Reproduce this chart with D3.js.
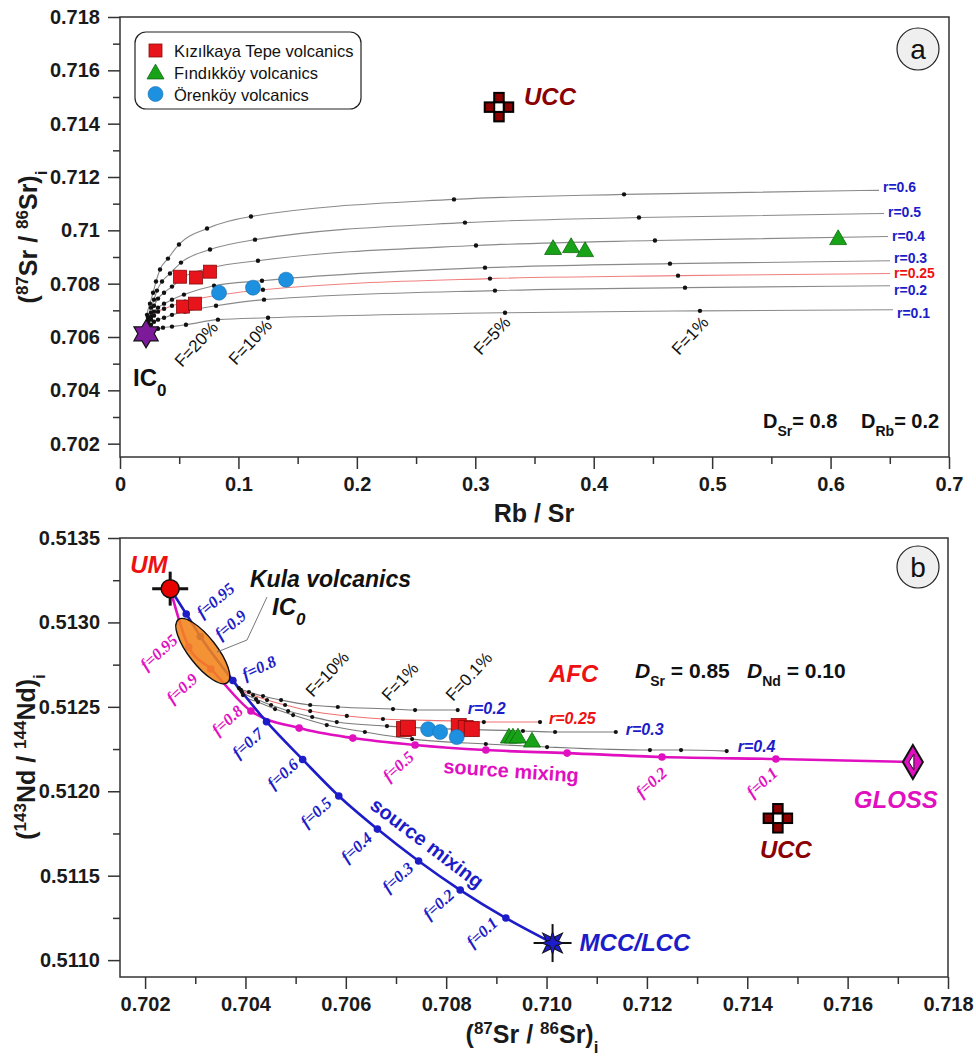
<!DOCTYPE html>
<html>
<head>
<meta charset="utf-8" />
<script src="https://d3js.org/d3.v7.min.js"></script>
<style>
  body { margin: 0; background: #fff; }
  svg { font-family: "Liberation Sans", Arial, sans-serif; }
  .frame { fill: none; stroke: #333; stroke-width: 1.5px; }
  .axis line { stroke: #333; stroke-width: 1.5px; }
  .axis text { font-family: "Liberation Sans", Arial, sans-serif; font-weight: bold; font-size: 20px; fill: #1a1a1a; }
  .title { font-weight: bold; font-size: 25px; fill: #1a1a1a; }
  .flab { font-family: "Liberation Serif", "Times New Roman", serif; font-style: italic; font-weight: bold; font-size: 16.5px; }
</style>
</head>
<body>
<svg id="chart" width="976" height="1058"></svg>
<script>

var svg = d3.select("#chart");

// ---------------- panel a : Rb/Sr vs (87Sr/86Sr)i ----------------
var kizilkayaA = [[0.0507, 0.70826], [0.0642, 0.70823], [0.0760, 0.70845], [0.0532, 0.70714], [0.0633, 0.70725]];
var orenkoyA = [[0.0836, 0.70766], [0.1123, 0.70785], [0.1402, 0.70815]];
var findikkoyA = [[0.3657, 0.70928], [0.3809, 0.70935], [0.3927, 0.70920], [0.6064, 0.70965]];
var ic0A = [0.022, 0.70612];
var uccA = [0.320, 0.71462];

// AFC curves: IC0, F = 90..20%, 10%, 5%, 1%, curve end
var afcRatiosA = ["0.6", "0.5", "0.4", "0.3", "0.25", "0.2", "0.1"];
var afcCurvesA = [
  [[0.0220,0.70612],[0.0228,0.70683],[0.0253,0.70725],[0.0279,0.70766],[0.0304,0.70808],[0.0338,0.70853],[0.0405,0.70894],[0.0498,0.70947],[0.0735,0.71007],[0.1106,0.71052],[0.2820,0.71116],[0.4256,0.71135],[0.6409,0.71150]],
  [[0.0220,0.70612],[0.0236,0.70672],[0.0262,0.70710],[0.0287,0.70740],[0.0312,0.70774],[0.0355,0.70808],[0.0422,0.70838],[0.0515,0.70879],[0.0760,0.70928],[0.1140,0.70965],[0.2913,0.71029],[0.4382,0.71048],[0.6451,0.71063]],
  [[0.0220,0.70612],[0.0236,0.70661],[0.0262,0.70691],[0.0287,0.70717],[0.0321,0.70744],[0.0372,0.70766],[0.0439,0.70789],[0.0532,0.70823],[0.0777,0.70860],[0.1165,0.70886],[0.3006,0.70943],[0.4517,0.70962],[0.6485,0.70977]],
  [[0.0220,0.70612],[0.0236,0.70654],[0.0262,0.70676],[0.0287,0.70695],[0.0321,0.70710],[0.0372,0.70725],[0.0439,0.70740],[0.0540,0.70759],[0.0794,0.70792],[0.1199,0.70811],[0.3082,0.70860],[0.4644,0.70875],[0.6502,0.70886]],
  [[0.0220,0.70612],[0.0236,0.70646],[0.0262,0.70665],[0.0287,0.70680],[0.0321,0.70695],[0.0372,0.70706],[0.0439,0.70717],[0.0549,0.70732],[0.0802,0.70755],[0.1207,0.70777],[0.3124,0.70819],[0.4712,0.70830],[0.6502,0.70838]],
  [[0.0220,0.70612],[0.0236,0.70635],[0.0262,0.70646],[0.0287,0.70657],[0.0321,0.70665],[0.0372,0.70672],[0.0439,0.70683],[0.0549,0.70695],[0.0811,0.70717],[0.1216,0.70740],[0.3166,0.70774],[0.4771,0.70785],[0.6502,0.70792]],
  [[0.0220,0.70612],[0.0236,0.70620],[0.0262,0.70623],[0.0287,0.70627],[0.0321,0.70631],[0.0363,0.70635],[0.0439,0.70639],[0.0557,0.70646],[0.0827,0.70665],[0.1250,0.70672],[0.3251,0.70691],[0.4897,0.70698],[0.6527,0.70702]]
];

var xTicksA = [0, 0.1, 0.2, 0.3, 0.4, 0.5, 0.6, 0.7];
var xTickLabelsA = ["0", "0.1", "0.2", "0.3", "0.4", "0.5", "0.6", "0.7"];
var xMinorA = [0.05, 0.15, 0.25, 0.35, 0.45, 0.55, 0.65];
var yTicksA = [0.702, 0.704, 0.706, 0.708, 0.710, 0.712, 0.714, 0.716, 0.718];
var yTickLabelsA = ["0.702", "0.704", "0.706", "0.708", "0.71", "0.712", "0.714", "0.716", "0.718"];
var yMinorA = [0.703, 0.705, 0.707, 0.709, 0.711, 0.713, 0.715, 0.717];

// ---------------- panel b : (87Sr/86Sr)i vs (143Nd/144Nd)i ----------------
var kizilkayaB = [[0.70716, 0.512368], [0.70724, 0.512374], [0.70825, 0.512386], [0.70839, 0.512374], [0.70851, 0.512368]];
var orenkoyB = [[0.70764, 0.512368], [0.70788, 0.512351], [0.70821, 0.512321]];
var findikkoyB = [[0.70925, 0.512315], [0.70933, 0.512315], [0.70943, 0.512315], [0.70971, 0.512291]];
var umB = [0.7025, 0.5132];
var mccB = [0.71012, 0.511101];
var glossB = [0.7173, 0.512173];
var uccB = [0.71461, 0.51184];
var kulaB = [0.70315, 0.51283];

var mixFractions = ["0.95", "0.9", "0.8", "0.7", "0.6", "0.5", "0.4", "0.3", "0.2", "0.1"];
var mixToMcc = [[0.70250,0.51320],[0.70282,0.513050],[0.70310,0.512917],[0.70375,0.512656],[0.70442,0.512412],[0.70514,0.512188],[0.70586,0.511972],[0.70663,0.511776],[0.70745,0.511587],[0.70828,0.511415],[0.70919,0.511249],[0.71012,0.511101]];
var mixToGloss = [[0.70250,0.51320],[0.70287,0.512854],[0.70331,0.512724],[0.70411,0.512475],[0.70507,0.512374],[0.70614,0.512315],[0.70738,0.512274],[0.70879,0.512244],[0.71041,0.512226],[0.71230,0.512203],[0.71457,0.512191],[0.71730,0.512173]];

var afcRatiosB = ["0.2", "0.25", "0.3", "0.4"];
var afcCurvesB = [
  [[0.70373,0.512659],[0.70387,0.512611],[0.70407,0.512588],[0.70435,0.512564],[0.70471,0.512540],[0.70529,0.512511],[0.70584,0.512499],[0.70694,0.512487],[0.70738,0.512481],[0.70823,0.512481]],
  [[0.70373,0.512659],[0.70391,0.512600],[0.70415,0.512570],[0.70443,0.512540],[0.70479,0.512511],[0.70529,0.512475],[0.70602,0.512446],[0.70674,0.512428],[0.70821,0.512416],[0.70875,0.512410],[0.70987,0.512410]],
  [[0.70373,0.512659],[0.70393,0.512588],[0.70421,0.512546],[0.70451,0.512511],[0.70485,0.512475],[0.70533,0.512440],[0.70582,0.512410],[0.70682,0.512386],[0.70953,0.512357],[0.71017,0.512351],[0.71138,0.512351]],
  [[0.70373,0.512659],[0.70395,0.512570],[0.70425,0.512528],[0.70459,0.512487],[0.70495,0.512451],[0.70562,0.512392],[0.70638,0.512351],[0.70732,0.512309],[0.70879,0.512280],[0.71001,0.512262],[0.71206,0.512244],[0.71268,0.512244],[0.71359,0.512238]]
];

var xTicksB = [0.702, 0.704, 0.706, 0.708, 0.710, 0.712, 0.714, 0.716, 0.718];
var xTickLabelsB = ["0.702", "0.704", "0.706", "0.708", "0.710", "0.712", "0.714", "0.716", "0.718"];
var xMinorB = [0.703, 0.705, 0.707, 0.709, 0.711, 0.713, 0.715, 0.717];
var yTicksB = [0.5110, 0.5115, 0.5120, 0.5125, 0.5130, 0.5135];
var yTickLabelsB = ["0.5110", "0.5115", "0.5120", "0.5125", "0.5130", "0.5135"];
var yMinorB = [0.51125, 0.51175, 0.51225, 0.51275, 0.51325];

// colours
var RED = "#e8141c", GREEN = "#18a218", CYAN = "#1e90e0", BLUE = "#1c1cc8", MAG = "#e010c0", DARKRED = "#8b0000";

// scales
var xA = d3.scaleLinear().domain([0, 0.7]).range([120, 949]);
var yA = d3.scaleLinear().domain([0.7015, 0.718]).range([457, 17]);
var xB = d3.scaleLinear().domain([0.7015, 0.718]).range([120, 948]);
var yB = d3.scaleLinear().domain([0.5109, 0.5135]).range([977, 538]);

function drawAxes(g, x, y, xt, xl, xm, yt, yl, ym) {
  var x0 = x.range()[0], x1 = x.range()[1], y0 = y.range()[0], y1 = y.range()[1];
  g.append("g").attr("class", "axis").attr("transform", "translate(0," + y0 + ")")
    .call(d3.axisBottom(x).tickValues(xt).tickSize(12).tickPadding(8)
      .tickFormat(function(d, i) { return xl[i]; }));
  g.append("g").attr("class", "axis").attr("transform", "translate(0," + y0 + ")")
    .call(d3.axisBottom(x).tickValues(xm).tickSize(7).tickFormat(""));
  g.append("g").attr("class", "axis").attr("transform", "translate(" + x0 + ",0)")
    .call(d3.axisLeft(y).tickValues(yt).tickSize(12).tickPadding(8)
      .tickFormat(function(d, i) { return yl[i]; }));
  g.append("g").attr("class", "axis").attr("transform", "translate(" + x0 + ",0)")
    .call(d3.axisLeft(y).tickValues(ym).tickSize(7).tickFormat(""));
  g.selectAll(".domain").remove();
  g.append("rect").attr("class", "frame")
    .attr("x", x0).attr("y", y1).attr("width", x1 - x0).attr("height", y0 - y1);
}

// isotope ratio title with super/subscripts
function isoTitle(g, tx, ty, rot, a, el1, b, el2) {
  var t = g.append("text").attr("class", "title").attr("text-anchor", "middle")
    .attr("transform", "translate(" + tx + "," + ty + ") rotate(" + rot + ")");
  t.append("tspan").text("(");
  t.append("tspan").attr("baseline-shift", "super").attr("font-size", "17px").text(a);
  t.append("tspan").text(el1 + " / ");
  t.append("tspan").attr("baseline-shift", "super").attr("font-size", "17px").text(b);
  t.append("tspan").text(el2 + ")");
  t.append("tspan").attr("baseline-shift", "sub").attr("font-size", "17px").text("i");
}

function drawSquares(g, data, x, y, s) {
  g.selectAll(null).data(data).join("rect")
    .attr("x", function(d) { return x(d[0]) - s / 2; })
    .attr("y", function(d) { return y(d[1]) - s / 2; })
    .attr("width", s).attr("height", s)
    .attr("fill", RED).attr("stroke", "#8c0a0a").attr("stroke-width", 0.8);
}
function triPath(w) {
  var h = w * 0.87;
  return "M0," + (-2 * h / 3) + "L" + (w / 2) + "," + (h / 3) + "L" + (-w / 2) + "," + (h / 3) + "Z";
}
function drawTriangles(g, data, x, y, w) {
  g.selectAll(null).data(data).join("path")
    .attr("d", triPath(w))
    .attr("transform", function(d) { return "translate(" + x(d[0]) + "," + y(d[1]) + ")"; })
    .attr("fill", GREEN).attr("stroke", "#0c6a0c").attr("stroke-width", 0.8);
}
function drawCircles(g, data, x, y, r) {
  g.selectAll(null).data(data).join("circle")
    .attr("cx", function(d) { return x(d[0]); })
    .attr("cy", function(d) { return y(d[1]); })
    .attr("r", r)
    .attr("fill", CYAN).attr("stroke", "#1670b0").attr("stroke-width", 0.6);
}
function drawUcc(g, cx, cy) {
  var c = 9.5;
  var cells = [[0, -1], [-1, 0], [1, 0], [0, 1], [0, 0]];
  g.selectAll(null).data(cells).join("rect")
    .attr("x", function(d) { return cx + d[0] * c - c / 2; })
    .attr("y", function(d) { return cy + d[1] * c - c / 2; })
    .attr("width", c).attr("height", c)
    .attr("fill", function(d) { return d[0] === 0 && d[1] === 0 ? "#fff" : DARKRED; })
    .attr("stroke", "#000").attr("stroke-width", 2);
}
function starPath(n, R, r) {
  var pts = [];
  for (var i = 0; i < 2 * n; i++) {
    var a = -Math.PI / 2 + i * Math.PI / n;
    var rad = i % 2 ? r : R;
    pts.push([rad * Math.cos(a), rad * Math.sin(a)]);
  }
  return "M" + pts.join("L") + "Z";
}
function panelLetter(g, cx, cy, s) {
  g.append("circle").attr("cx", cx).attr("cy", cy).attr("r", 21)
    .attr("fill", "#efefef").attr("stroke", "#222").attr("stroke-width", 1.2);
  g.append("text").attr("x", cx).attr("y", cy).attr("dy", "0.35em")
    .attr("text-anchor", "middle").attr("font-size", "28px").attr("fill", "#111").text(s);
}

// ================= PANEL A =================
var gA = svg.append("g");
drawAxes(gA, xA, yA, xTicksA, xTickLabelsA, xMinorA, yTicksA, yTickLabelsA, yMinorA);

var lineA = d3.line().x(function(d) { return xA(d[0]); }).y(function(d) { return yA(d[1]); })
  .curve(d3.curveMonotoneX);

gA.selectAll(".afcA").data(afcCurvesA).join("path")
  .attr("class", "afcA")
  .attr("d", lineA)
  .attr("fill", "none")
  .attr("stroke", function(d, i) { return afcRatiosA[i] === "0.25" ? "#f08080" : "#8a8a8a"; })
  .attr("stroke-width", 1.1);

afcCurvesA.forEach(function(c) {
  gA.selectAll(null).data(c.slice(1, c.length - 1)).join("circle")
    .attr("cx", function(d) { return xA(d[0]); })
    .attr("cy", function(d) { return yA(d[1]); })
    .attr("r", 2.2).attr("fill", "#111");
});

// r labels at curve ends (vertical nudge so they don't collide)
var rNudgeA = [-3, -1, 0, -3, 0, 4, 3];
afcCurvesA.forEach(function(c, i) {
  var e = c[c.length - 1];
  gA.append("text")
    .attr("x", xA(e[0]) + 4).attr("y", yA(e[1]) + rNudgeA[i]).attr("dy", "0.35em")
    .attr("font-size", "14px").attr("font-weight", "bold")
    .attr("fill", afcRatiosA[i] === "0.25" ? "#ee1111" : BLUE)
    .text("r=" + afcRatiosA[i]);
});

// F labels
[["F=20%", 182, 368], ["F=10%", 236, 366], ["F=5%", 481, 356], ["F=1%", 679, 356]].forEach(function(l) {
  gA.append("text").attr("transform", "translate(" + l[1] + "," + l[2] + ") rotate(-47)")
    .attr("font-size", "17px").attr("fill", "#111").text(l[0]);
});

drawSquares(gA, kizilkayaA, xA, yA, 13);
drawCircles(gA, orenkoyA, xA, yA, 7.5);
drawTriangles(gA, findikkoyA, xA, yA, 17);

// IC0 star
gA.append("path").attr("d", starPath(6, 14, 8.2))
  .attr("transform", "translate(" + xA(ic0A[0]) + "," + yA(ic0A[1]) + ")")
  .attr("fill", "#7d1a9a").attr("stroke", "#111").attr("stroke-width", 1.2);
var ic = gA.append("text").attr("x", xA(ic0A[0]) - 13).attr("y", yA(ic0A[1]) + 52)
  .attr("font-size", "24px").attr("font-weight", "bold").attr("fill", "#111");
ic.append("tspan").text("IC");
ic.append("tspan").attr("baseline-shift", "sub").attr("font-size", "17px").text("0");

// UCC
drawUcc(gA, xA(uccA[0]), yA(uccA[1]));
gA.append("text").attr("x", xA(uccA[0]) + 25).attr("y", yA(uccA[1]) - 2)
  .attr("font-size", "24px").attr("font-weight", "bold").attr("font-style", "italic")
  .attr("fill", DARKRED).text("UCC");

// D values
var dA = gA.append("text").attr("x", 763).attr("y", 428)
  .attr("font-size", "20px").attr("font-weight", "bold").attr("fill", "#111");
dA.append("tspan").text("D");
dA.append("tspan").attr("baseline-shift", "sub").attr("font-size", "14px").text("Sr");
dA.append("tspan").text("= 0.8");
dA.append("tspan").attr("x", 861).text("D");
dA.append("tspan").attr("baseline-shift", "sub").attr("font-size", "14px").text("Rb");
dA.append("tspan").text("= 0.2");

// legend
var lg = gA.append("g");
lg.append("rect").attr("x", 135).attr("y", 32).attr("width", 226).attr("height", 77).attr("rx", 11)
  .attr("fill", "#fff").attr("stroke", "#222").attr("stroke-width", 1.2);
lg.append("rect").attr("x", 149).attr("y", 44).attr("width", 13).attr("height", 13)
  .attr("fill", RED).attr("stroke", "#8c0a0a").attr("stroke-width", 0.8);
lg.append("path").attr("d", triPath(17)).attr("transform", "translate(155.5,74)")
  .attr("fill", GREEN).attr("stroke", "#0c6a0c").attr("stroke-width", 0.8);
lg.append("circle").attr("cx", 155.5).attr("cy", 94).attr("r", 7.5)
  .attr("fill", CYAN).attr("stroke", "#1670b0").attr("stroke-width", 0.6);
["Kızılkaya Tepe volcanics", "Fındıkköy volcanics", "Örenköy volcanics"].forEach(function(s, i) {
  lg.append("text").attr("x", 174).attr("y", [51, 73, 95][i]).attr("dy", "0.35em")
    .attr("font-size", "16.5px").attr("fill", "#111").text(s);
});

panelLetter(gA, 918, 49, "a");

gA.append("text").attr("class", "title").attr("x", 534).attr("y", 522)
  .attr("text-anchor", "middle").text("Rb / Sr");
isoTitle(gA, 37, 237, -90, "87", "Sr", "86", "Sr");

// ================= PANEL B =================
var gB = svg.append("g");
drawAxes(gB, xB, yB, xTicksB, xTickLabelsB, xMinorB, yTicksB, yTickLabelsB, yMinorB);

var lineB = d3.line().x(function(d) { return xB(d[0]); }).y(function(d) { return yB(d[1]); })
  .curve(d3.curveMonotoneX);

// AFC curves
gB.selectAll(".afcB").data(afcCurvesB).join("path")
  .attr("class", "afcB").attr("d", lineB).attr("fill", "none")
  .attr("stroke", function(d, i) { return afcRatiosB[i] === "0.25" ? "#f07070" : "#7a7a7a"; })
  .attr("stroke-width", 1.1);

// mixing curves
gB.append("path").datum(mixToGloss).attr("d", lineB).attr("fill", "none")
  .attr("stroke", MAG).attr("stroke-width", 2.6);
gB.append("path").datum(mixToMcc).attr("d", lineB).attr("fill", "none")
  .attr("stroke", BLUE).attr("stroke-width", 2.6);

gB.selectAll(null).data(mixToGloss.slice(1, mixToGloss.length - 1)).join("circle")
  .attr("cx", function(d) { return xB(d[0]); }).attr("cy", function(d) { return yB(d[1]); })
  .attr("r", 3.8).attr("fill", MAG);
gB.selectAll(null).data(mixToMcc.slice(1, mixToMcc.length - 1)).join("circle")
  .attr("cx", function(d) { return xB(d[0]); }).attr("cy", function(d) { return yB(d[1]); })
  .attr("r", 3.8).attr("fill", BLUE);

afcCurvesB.forEach(function(c) {
  gB.selectAll(null).data(c.slice(1)).join("circle")
    .attr("cx", function(d) { return xB(d[0]); }).attr("cy", function(d) { return yB(d[1]); })
    .attr("r", 2.1).attr("fill", "#111");
});

// Kula volcanics field
gB.append("ellipse").attr("cx", 0).attr("cy", 0).attr("rx", 40).attr("ry", 14)
  .attr("transform", "translate(" + xB(kulaB[0]) + "," + yB(kulaB[1]) + ") rotate(52)")
  .attr("fill", "#f2841a").attr("fill-opacity", 0.88)
  .attr("stroke", "#111").attr("stroke-width", 1.4);
gB.append("polyline")
  .attr("points", [[xB(kulaB[0]) + 14, yB(kulaB[1]) + 1], [247, 640], [267, 597]].join(" "))
  .attr("fill", "none").attr("stroke", "#777").attr("stroke-width", 1);

// r labels for AFC curves
var rOff = [[10, -2], [9, -4], [10, -3], [11, -5]];
afcCurvesB.forEach(function(c, i) {
  var e = c[c.length - 1];
  gB.append("text").attr("x", xB(e[0]) + rOff[i][0]).attr("y", yB(e[1]) + rOff[i][1]).attr("dy", "0.35em")
    .attr("font-size", "16px").attr("font-weight", "bold").attr("font-style", "italic")
    .attr("fill", afcRatiosB[i] === "0.25" ? "#ee1111" : BLUE)
    .text("r=" + afcRatiosB[i]);
});

// F labels (panel b)
[["F=10%", 313, 698], ["F=1%", 389, 702], ["F=0.1%", 453, 702]].forEach(function(l) {
  gB.append("text").attr("transform", "translate(" + l[1] + "," + l[2] + ") rotate(-47)")
    .attr("font-size", "17px").attr("fill", "#111").text(l[0]);
});

// f labels along mixing curves (offset from their point)
var blueOff = [[29, -14, -40], [30, -12, -40], [26, -13, -25], [-19, 21, -42], [-20, 14, -42],
               [-23, 16, -42], [-21, 18, -42], [-21, 16, -42], [-22, 14, -42], [-24, 14, -42]];
mixFractions.forEach(function(f, i) {
  var p = mixToMcc[i + 1], o = blueOff[i];
  gB.append("text").attr("class", "flab").attr("fill", BLUE).attr("text-anchor", "middle")
    .attr("transform", "translate(" + (xB(p[0]) + o[0]) + "," + (yB(p[1]) + o[1]) + ") rotate(" + o[2] + ")")
    .attr("dy", "0.35em").text("f=" + f);
});
var magLabels = { "0.95": [-30, 5], "0.9": [-29, 19], "0.8": [-24, 9], "0.5": [-17, 21], "0.2": [-11, 25], "0.1": [-14, 23] };
mixFractions.forEach(function(f, i) {
  var o = magLabels[f];
  if (!o) return;
  var p = mixToGloss[i + 1];
  gB.append("text").attr("class", "flab").attr("fill", MAG).attr("text-anchor", "middle")
    .attr("transform", "translate(" + (xB(p[0]) + o[0]) + "," + (yB(p[1]) + o[1]) + ") rotate(-42)")
    .attr("dy", "0.35em").text("f=" + f);
});

gB.append("text").attr("transform", "translate(443,773) rotate(4)")
  .attr("font-size", "20px").attr("font-weight", "bold").attr("fill", MAG).text("source mixing");
gB.append("text").attr("transform", "translate(427,843) rotate(37)").attr("text-anchor", "middle")
  .attr("dy", "0.35em").attr("font-size", "20px").attr("font-weight", "bold").attr("fill", BLUE)
  .text("source mixing");

// samples
drawSquares(gB, kizilkayaB, xB, yB, 15);
drawCircles(gB, orenkoyB, xB, yB, 7.5);
drawTriangles(gB, findikkoyB, xB, yB, 17);

// UM end-member
var um = gB.append("g").attr("transform", "translate(" + xB(umB[0]) + "," + yB(umB[1]) + ")");
um.append("line").attr("x1", -18).attr("x2", 18).attr("stroke", "#111").attr("stroke-width", 3);
um.append("line").attr("y1", -17).attr("y2", 17).attr("stroke", "#111").attr("stroke-width", 3);
um.append("circle").attr("r", 9).attr("fill", "#e80000").attr("stroke", "#111").attr("stroke-width", 1.5);
gB.append("text").attr("x", xB(umB[0]) - 40).attr("y", yB(umB[1]) - 16)
  .attr("font-size", "24px").attr("font-weight", "bold").attr("font-style", "italic")
  .attr("fill", "#ee1111").text("UM");

// MCC/LCC end-member
var mc = gB.append("g").attr("transform", "translate(" + xB(mccB[0]) + "," + yB(mccB[1]) + ")");
mc.append("line").attr("x1", -19).attr("x2", 19).attr("stroke", "#111").attr("stroke-width", 2);
mc.append("line").attr("y1", -19).attr("y2", 19).attr("stroke", "#111").attr("stroke-width", 2);
mc.append("path").attr("d", starPath(4, 14, 5)).attr("transform", "rotate(45)")
  .attr("fill", BLUE).attr("stroke", "#111").attr("stroke-width", 1);
mc.append("path").attr("d", starPath(4, 11, 4))
  .attr("fill", BLUE).attr("stroke", "#111").attr("stroke-width", 1);
gB.append("text").attr("x", xB(mccB[0]) + 27).attr("y", yB(mccB[1])).attr("dy", "0.35em")
  .attr("font-size", "24px").attr("font-weight", "bold").attr("font-style", "italic")
  .attr("fill", BLUE).text("MCC/LCC");

// GLOSS end-member
var gl = gB.append("g").attr("transform", "translate(" + xB(glossB[0]) + "," + yB(glossB[1]) + ")");
gl.append("path").attr("d", "M0,-17L10,0L0,17L-10,0Z").attr("fill", MAG).attr("stroke", "#111").attr("stroke-width", 2);
gl.append("path").attr("d", "M1,-8L-4,0L1,8Z").attr("fill", "#fff").attr("stroke", "#111").attr("stroke-width", 1);
gB.append("text").attr("x", xB(glossB[0]) + 25).attr("y", yB(glossB[1]) + 46).attr("text-anchor", "end")
  .attr("font-size", "24px").attr("font-weight", "bold").attr("font-style", "italic")
  .attr("fill", MAG).text("GLOSS");

// UCC
drawUcc(gB, xB(uccB[0]), yB(uccB[1]));
gB.append("text").attr("x", xB(uccB[0]) + 8).attr("y", yB(uccB[1]) + 40).attr("text-anchor", "middle")
  .attr("font-size", "24px").attr("font-weight", "bold").attr("font-style", "italic")
  .attr("fill", DARKRED).text("UCC");

// annotations
gB.append("text").attr("x", 250).attr("y", 587)
  .attr("font-size", "23px").attr("font-weight", "bold").attr("font-style", "italic")
  .attr("fill", "#111").text("Kula volcanics");
var icb = gB.append("text").attr("x", 272).attr("y", 615)
  .attr("font-size", "24px").attr("font-weight", "bold").attr("font-style", "italic").attr("fill", "#111");
icb.append("tspan").text("IC");
icb.append("tspan").attr("baseline-shift", "sub").attr("font-size", "17px").text("0");

gB.append("text").attr("x", 549).attr("y", 682)
  .attr("font-size", "24px").attr("font-weight", "bold").attr("font-style", "italic")
  .attr("fill", "#ee1111").text("AFC");

var dB = gB.append("text").attr("x", 635).attr("y", 678)
  .attr("font-size", "21px").attr("font-weight", "bold").attr("fill", "#111");
dB.append("tspan").attr("font-style", "italic").text("D");
dB.append("tspan").attr("baseline-shift", "sub").attr("font-size", "14px").text("Sr");
dB.append("tspan").text(" = 0.85");
dB.append("tspan").attr("x", 747).attr("font-style", "italic").text("D");
dB.append("tspan").attr("baseline-shift", "sub").attr("font-size", "14px").text("Nd");
dB.append("tspan").text(" = 0.10");

panelLetter(gB, 918, 567, "b");

isoTitle(gB, 532, 1043, 0, "87", "Sr", "86", "Sr");
isoTitle(gB, 35, 757, -90, "143", "Nd", "144", "Nd");

</script>
</body>
</html>
